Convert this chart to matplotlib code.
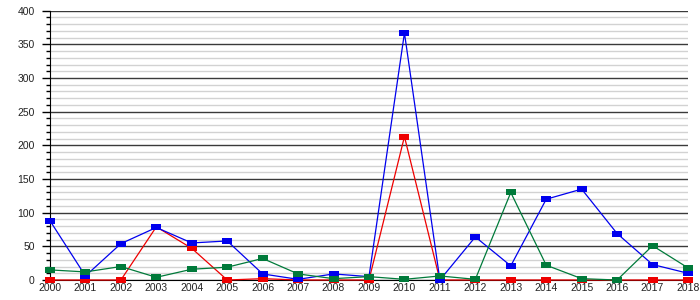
import numpy as np
import matplotlib.pyplot as plt
from matplotlib.ticker import MultipleLocator

years = list(range(2000, 2019))

blue_vals = [88, 6, 54, 78, 55, 58, 9, 1, 9, 5, 367, 0, 64, 21, 120, 135, 69, 23, 10]
red_vals = [0, 0, 0, 79, 47, 0, 2, 0, 0, 0, 213, 0, 0, 0, 0, 0, 0, 0, 0]
green_vals = [15, 12, 20, 4, 16, 19, 32, 9, 2, 5, 1, 6, 1, 130, 22, 2, 0, 51, 18]

plt.rcParams['font.family'] = ['Liberation Sans', 'DejaVu Sans']

fig = plt.figure(figsize=(7, 3), dpi=100)
ax = fig.add_axes([50 / 700, 20 / 300, 638 / 700, 269.3 / 300])

# wide rectangular marker like the original
rect = [(-1, -0.6), (1, -0.6), (1, 0.6), (-1, 0.6), (-1, -0.6)]

series = [
    (red_vals, '#ee0000'),
    (blue_vals, '#0000ee'),
    (green_vals, '#007a3a'),
]
for vals, col in series:
    ax.plot(years, vals, color=col, lw=0.9, marker=rect, markersize=7.3,
            markeredgewidth=0, markerfacecolor=col, clip_on=False, zorder=3)

ax.set_xlim(2000, 2018)
ax.set_ylim(0, 400)
ax.set_xticks(years)
ax.set_xticklabels([str(y) for y in years])
ax.yaxis.set_major_locator(MultipleLocator(50))
ax.yaxis.set_minor_locator(MultipleLocator(10))

ax.grid(True, which='major', axis='y', color='#3a3a3a', lw=1.0)
ax.grid(True, which='minor', axis='y', color='#d2d2d2', lw=1.0)
ax.set_axisbelow(True)

for s in ['top', 'right']:
    ax.spines[s].set_visible(False)
ax.spines['left'].set_color('black')
ax.spines['bottom'].set_color('black')

ax.tick_params(axis='y', which='major', length=6, width=1, pad=5,
               labelsize=7.5, colors='black', labelcolor='#222222')
ax.tick_params(axis='y', which='minor', length=3, width=1, colors='black')
ax.tick_params(axis='x', length=0, pad=2, labelsize=7.5, labelcolor='#222222')

fig.savefig('out.png', dpi=100)
